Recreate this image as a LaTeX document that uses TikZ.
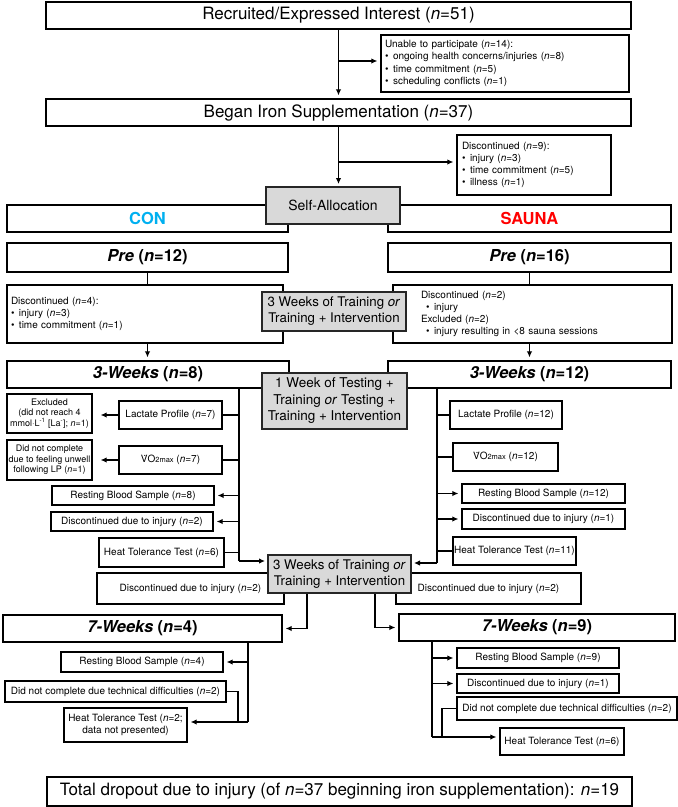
\documentclass[tikz,border=0pt]{standalone}
\usepackage{fontspec}
\setmainfont{TeX Gyre Heros}
\usetikzlibrary{arrows.meta}
\definecolor{concol}{RGB}{0,176,240}
\definecolor{saunacol}{RGB}{255,0,0}
\newcommand\nN{\textit{n}}
\newcommand\bul{\textbullet\hspace{4.5pt}}
\newcommand\vom{\.{V}O{\fontsize{7.5}{9}\selectfont 2max}}
\newcommand\bxn[7]{\node[#1, minimum width={#5-#3}, minimum height={#6-#4}] (#2) at ({(#3+#5)/2},{(#4+#6)/2}) {#7};}
\tikzset{
  box/.style={draw=black, line width=1.3pt, fill=white, inner sep=0pt, align=center},
  graybox/.style={draw=black!85, line width=1.6pt, fill=black!15, inner sep=0pt, align=center, font=\fontsize{13.3}{16}\selectfont},
  big/.style={font=\fontsize{17}{20}\selectfont},
  hdr/.style={font=\fontsize{16.5}{20}\selectfont\bfseries},
  sm/.style={font=\fontsize{10}{12.2}\selectfont},
  xs/.style={font=\fontsize{9}{10.5}\selectfont},
  ln/.style={line width=1.3pt},
  arr/.style={line width=1.3pt, -{Latex[length=6pt,width=5.5pt]}, shorten >=3pt},
}
\begin{document}
\begin{tikzpicture}[x=1pt,y=-1pt]
\useasboundingbox (0,0) rectangle (678,807);
% top
\bxn{box,big}{rec}{46}{2}{631}{29}{Recruited/Expressed Interest (\nN=51)}
\bxn{box,sm,align=left,text width=240pt}{unable}{381}{35}{629}{92}{Unable to participate (\nN=14):\\\bul ongoing health concerns/injuries (\nN=8)\\\bul time commitment (\nN=5)\\\bul scheduling conflicts (\nN=1)}
\bxn{box,big}{began}{46}{99}{631}{126}{Began Iron Supplementation (\nN=37)}
\bxn{box,sm,align=left,text width=144pt}{disc0}{457}{135}{611}{195}{Discontinued (\nN=9):\\\bul injury (\nN=3)\\\bul time commitment (\nN=5)\\\bul illness (\nN=1)}
\bxn{box,hdr,text=concol}{con}{7}{205}{288}{232}{CON}
\bxn{box,hdr,text=saunacol}{sauna}{388}{205}{671}{232}{SAUNA}
\bxn{box,hdr}{pre12}{7}{243}{288}{272}{\textit{Pre} (\textit{n}=12)}
\bxn{box,hdr}{pre16}{388}{243}{671}{272}{\textit{Pre} (\textit{n}=16)}
\bxn{box,sm,align=left,text width=268pt}{disc12}{7}{285}{283}{343}{Discontinued (\nN=4):\\\bul injury (\nN=3)\\\bul time commitment (\nN=1)}
\bxn{box,sm,align=left,text width=223pt}{disc16}{393}{285}{672}{343}{Discontinued (\nN=2)\\\hspace*{5pt}\bul injury\\Excluded (\nN=2)\\\hspace*{5pt}\bul injury resulting in <8 sauna sessions}
\bxn{box,hdr}{w3a}{7}{361}{289}{388}{\textit{3-Weeks} (\textit{n}=8)}
\bxn{box,hdr}{w3b}{388}{361}{671}{388}{\textit{3-Weeks} (\textit{n}=12)}
% left column
\bxn{box,sm}{lac7}{119}{401}{222}{429}{Lactate Profile (\nN=7)}
\bxn{box,xs}{excl}{7}{394}{92}{433}{Excluded\\(did not reach 4\\mmol·L\textsuperscript{-1} [La\textsuperscript{-}]; \nN=1)}
\bxn{box,sm}{vo7}{119}{446}{222}{474}{\vom{} (\nN=7)}
\bxn{box,xs}{dnc1}{7}{440}{92}{480}{Did not complete\\due to feeling unwell\\following LP (\nN=1)}
\bxn{box,sm}{rbs8}{52}{486}{214}{505}{Resting Blood Sample (\nN=8)}
\bxn{box,sm}{dis2}{51}{512}{213}{531}{Discontinued due to injury (\nN=2)}
\bxn{box,sm}{htt6}{99}{538}{224}{567}{Heat Tolerance Test (\nN=6)}
% right column
\bxn{box,sm}{lac12}{450}{401}{562}{429}{Lactate Profile (\nN=12)}
\bxn{box,sm}{vo12}{453}{443}{558}{471}{\vom{} (\nN=12)}
\bxn{box,sm}{rbs12}{462}{484}{625}{503}{Resting Blood Sample (\nN=12)}
\bxn{box,sm}{dis1}{462}{509}{625}{529}{Discontinued due to injury (\nN=1)}
\bxn{box,sm}{htt11}{453}{537}{576}{565}{Heat Tolerance Test (\nN=11)}
% lower
\bxn{box,sm}{disc2L}{97}{573}{284}{604}{Discontinued due to injury (\nN=2)}
\bxn{box,sm}{disc2R}{396}{573}{581}{604}{Discontinued due to injury (\nN=2)}
\bxn{box,hdr}{w7a}{3}{615}{282}{642}{\textit{7-Weeks} (\textit{n}=4)}
\bxn{box,hdr}{w7b}{399}{614}{675}{641}{\textit{7-Weeks} (\textit{n}=9)}
\bxn{box,sm}{rbs4}{61}{652}{223}{672}{Resting Blood Sample (\nN=4)}
\bxn{box,sm}{dnc2L}{5}{681}{226}{702}{Did not complete due technical difficulties (\nN=2)}
\bxn{box,sm}{htt2}{64}{708}{187}{742}{Heat Tolerance Test (\nN=2;\\data not presented)}
\bxn{box,sm}{rbs9}{457}{648}{619}{668}{Resting Blood Sample (\nN=9)}
\bxn{box,sm}{dis1b}{457}{674}{619}{693}{Discontinued due to injury (\nN=1)}
\bxn{box,sm}{dnc2R}{457}{697}{677}{720}{Did not complete due technical difficulties (\nN=2)}
\bxn{box,sm}{htt6b}{500}{728}{624}{755}{Heat Tolerance Test (\nN=6)}
\bxn{box,big}{total}{47}{777}{632}{806}{Total dropout due to injury (of \nN=37 beginning iron supplementation): \nN=19}
% connectors top
\coordinate (t1) at (338.5,61);
\coordinate (t2) at (338.5,162);
\draw[arr] (rec.south) -- (began.north);
\draw[arr] (t1) -- (t1 -| unable.west);
\draw[arr] (began.south) -- (began.south |- 0,187);
\draw[arr] (t2) -- (t2 -| disc0.west);
\draw[ln] (pre12.south) -- (pre12.south |- disc12.north);
\draw[arr] (disc12.south -| pre12.south) -- (w3a.north -| pre12.south);
\draw[ln] (pre16.south) -- (pre16.south |- disc16.north);
\draw[arr] (disc16.south -| pre16.south) -- (w3b.north -| pre16.south);
% left column connectors
\coordinate (lvt) at (239,388);
\coordinate (lvb) at (239,561);
\draw[ln] (lvt) -- (lvb);
\draw[arr] (lvb) -- (268,561);
\draw[ln] (lac7.east) -- (lac7.east -| lvt);
\draw[ln] (vo7.east) -- (vo7.east -| lvt);
\draw[arr] (rbs8.east -| lvt) -- (rbs8.east);
\draw[arr] (dis2.east -| lvt) -- (dis2.east);
\draw[ln] (htt6.east) -- (htt6.east -| lvt);
\draw[arr, shorten >=8pt] (lac7.west) -- (lac7.west -| excl.east);
\draw[arr, shorten >=8pt] (vo7.west) -- (vo7.west -| dnc1.east);
% right column connectors
\coordinate (rvt) at (437,388);
\coordinate (rvb) at (437,563);
\draw[ln] (rvt) -- (rvb);
\draw[arr] (rvb) -- (411,563);
\draw[ln] (lac12.west) -- (lac12.west -| rvt);
\draw[ln] (vo12.west) -- (vo12.west -| rvt);
\draw[arr] (rbs12.west -| rvt) -- (rbs12.west);
\draw[arr] (dis1.west -| rvt) -- (dis1.west);
\draw[ln] (htt11.west) -- (htt11.west -| rvt);
% lower connectors
\coordinate (g7a) at (307,593);
\coordinate (g7b) at (375,593);
\draw[arr] (g7a) |- (w7a.east);
\draw[arr] (g7b) |- (w7b.west);
\coordinate (l7t) at (248,642);
\coordinate (l7b) at (248,722);
\coordinate (l7j) at (238,722);
\draw[ln] (l7t) -- (l7b);
\draw[arr] (rbs4.east -| l7t) -- (rbs4.east);
\draw[ln] (dnc2L.east) -| (l7j);
\draw[arr] (l7b) -- (l7b -| htt2.east);
\coordinate (r7t) at (432,641);
\coordinate (r7b) at (432,737);
\coordinate (r7j) at (442,737);
\draw[ln] (r7t) -- (r7b);
\draw[arr] (rbs9.west -| r7t) -- (rbs9.west);
\draw[arr] (dis1b.west -| r7t) -- (dis1b.west);
\draw[ln] (dnc2R.west) -| (r7j);
\draw[arr] (r7b) -- (r7b -| htt6b.west);
% gray boxes on top
\bxn{graybox,font=\fontsize{14}{16}\selectfont}{self}{266}{187}{400}{224}{Self-Allocation}
\bxn{graybox}{gr3a}{262}{292}{406}{331}{3 Weeks of Training \textit{or}\\Training + Intervention}
\bxn{graybox,font=\fontsize{13.5}{16.5}\selectfont}{gr1w}{262}{373}{407}{429}{1 Week of Testing +\\Training \textit{or} Testing +\\Training + Intervention}
\bxn{graybox}{gr3b}{268}{555}{411}{593}{3 Weeks of Training \textit{or}\\Training + Intervention}
\end{tikzpicture}
\end{document}
